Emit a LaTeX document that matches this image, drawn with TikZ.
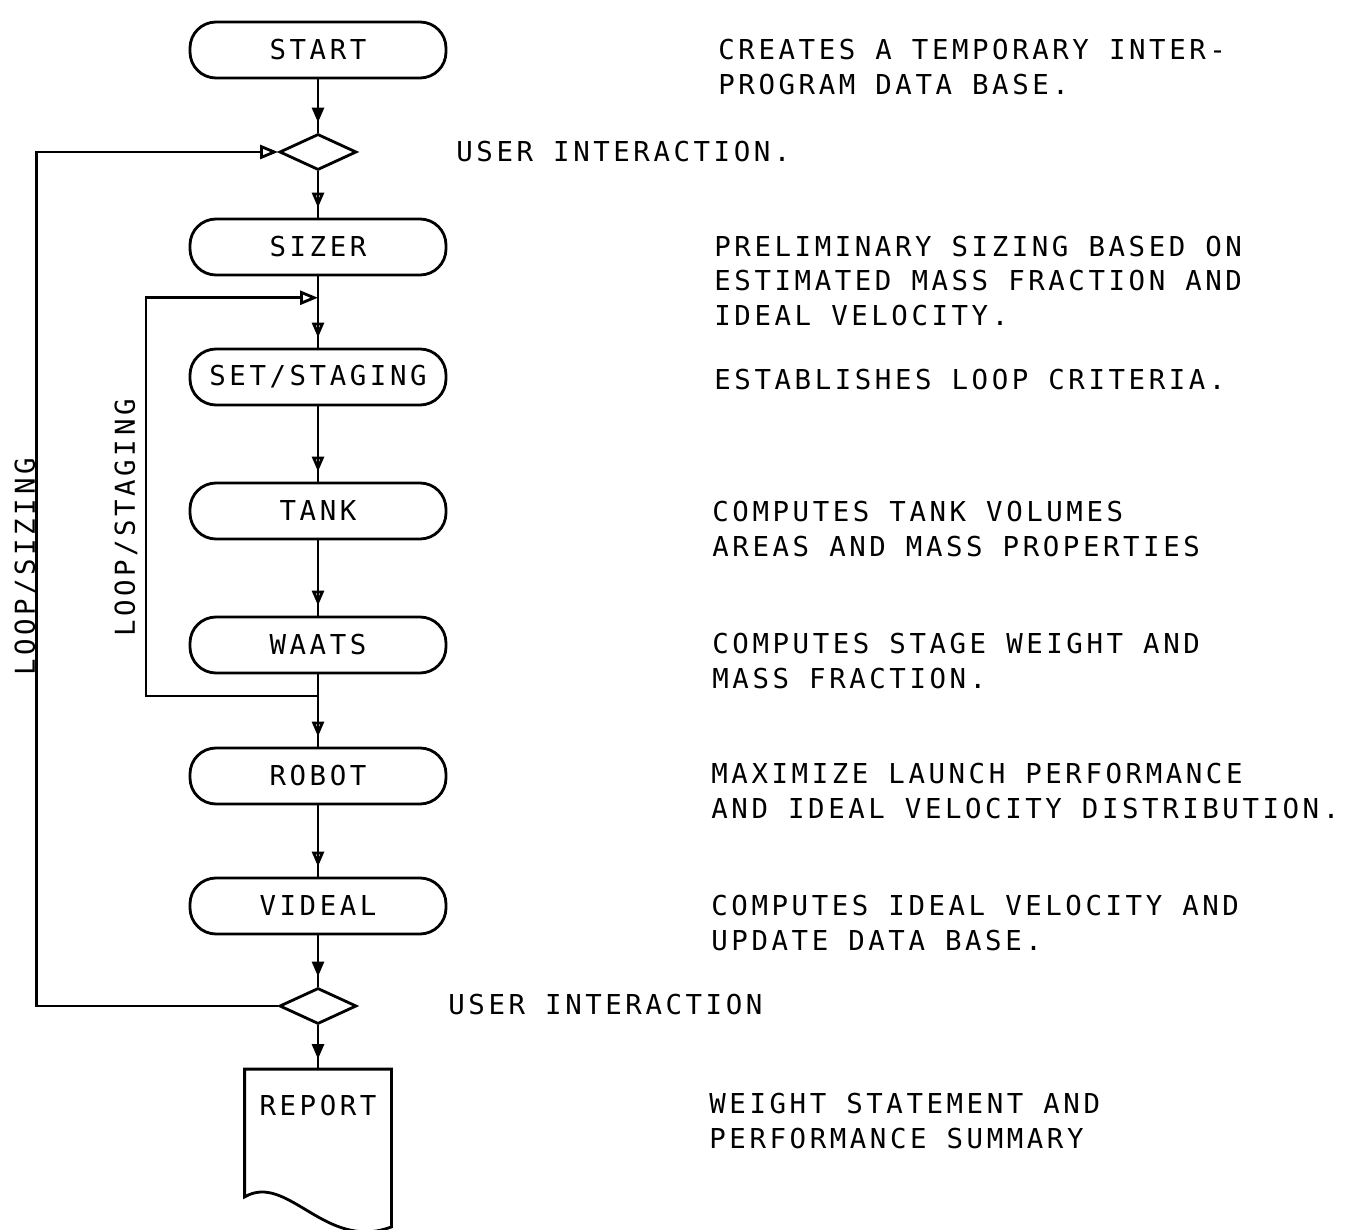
\documentclass[tikz,border=0pt]{standalone}
\usepackage{fontspec}
\usepackage{tikz}
\usetikzlibrary{arrows.meta,shapes.geometric,positioning,calc,decorations.markings}

\newfontfamily\flowfont[LetterSpace=13]{DejaVu Sans Mono}

\begin{document}
\begin{tikzpicture}
          [x=0.1mm,y=-0.1mm,node distance=13.2mm,thick,
           every node/.style={font=\flowfont\fontsize{7.8pt}{9.7pt}\selectfont}]
          \tikzstyle{proc}=[draw,rectangle,rounded corners=2.6mm,minimum width=25.6mm,minimum height=5.6mm,inner sep=0pt]
          \tikzstyle{ask}=[draw,diamond,aspect=2.1,minimum width=7.7mm,minimum height=3.6mm,inner sep=0pt]
          \tikzstyle{doc}=[rectangle,minimum width=14.4mm,inner sep=0pt,text height=4.5mm,text depth=11mm]
          \tikzstyle{note}=[anchor=west,align=left,inner sep=0pt]
          \tikzstyle{looplabel}=[rotate=90,inner sep=0pt]
          \tikzstyle{flow}=[postaction={decorate},decoration={markings,mark=at position -1mm with {\arrow{Triangle[open,length=1.5mm,width=1.2mm]}}}]
          \tikzstyle{flowfilled}=[postaction={decorate},decoration={markings,mark=at position -1mm with {\arrow{Triangle[length=1.5mm,width=1.2mm]}}}]
          \tikzstyle{back}=[-{Triangle[open,length=1.8mm,width=1.4mm]}]

          \useasboundingbox (0,0) rectangle (1356,1229);

          % program column
          \node[proc] (start) at (318,50) {START};
          \node[ask] (askA) [below of = start, node distance=10.2mm] {};
          \node[proc] (sizer) [below of = askA, node distance=9.5mm] {SIZER};
          \node[proc] (setstg) [below of = sizer, node distance=13mm] {SET/STAGING};
          \node[proc] (tank) [below of = setstg, node distance=13.4mm] {TANK};
          \node[proc] (waats) [below of = tank, node distance=13.4mm] {WAATS};
          \node[proc] (robot) [below of = waats, node distance=13.1mm] {ROBOT};
          \node[proc] (videal) [below of = robot, node distance=13mm] {VIDEAL};
          \node[ask] (askB) [below of = videal, node distance=10mm] {};
          \node[doc] (report) [below of = askB, node distance=14.2mm] {REPORT};

          % report sheet with wavy lower edge
          \draw (report.north west) -- ($(report.south west)+(0,-30)$)
                .. controls ($(report.south west)+(43,-55)$) and ($(report.south east)+(-66,25)$) .. (report.south east)
                -- (report.north east) -- cycle;

          \path (start) edge[flowfilled] (askA)
                (askA) edge[flow] (sizer)
                (sizer) edge[flow] (setstg)
                (setstg) edge[flow] (tank)
                (tank) edge[flow] (waats)
                (waats) edge[flow] (robot)
                (robot) edge[flow] (videal)
                (videal) edge[flowfilled] (askB)
                (askB) edge[flowfilled] (report);

          % loops back up the column
          \coordinate (stgin) at ($(sizer.south)!.3!(setstg.north)$);
          \coordinate (stgout) at ($(waats.south)!.3!(robot.north)$);
          \draw[back] (askB.west) -- ++(-242,0) |- (askA.west);
          \draw[back] (stgout) -- ++(-172,0) |- (stgin);
          \node[looplabel] (lblsize) at (26,567) {LOOP/SIZING};
          \node[looplabel] (lblstage) at (126,518) {LOOP/STAGING};

          % remarks
          \node[note] (nstart) at (717,67) {CREATES A TEMPORARY INTER-\\PROGRAM DATA BASE.};
          \node[note] (naskA) at (455,152) {USER INTERACTION.};
          \node[note] (nsizer) at (713,281) {PRELIMINARY SIZING BASED ON\\ESTIMATED MASS FRACTION AND\\IDEAL VELOCITY.};
          \node[note] (nsetstg) at (713,380) {ESTABLISHES LOOP CRITERIA.};
          \node[note] (ntank) at (711,529) {COMPUTES TANK VOLUMES\\AREAS AND MASS PROPERTIES};
          \node[note] (nwaats) at (711,661) {COMPUTES STAGE WEIGHT AND\\MASS FRACTION.};
          \node[note] (nrobot) at (710,791) {MAXIMIZE LAUNCH PERFORMANCE\\AND IDEAL VELOCITY DISTRIBUTION.};
          \node[note] (nvideal) at (710,923) {COMPUTES IDEAL VELOCITY AND\\UPDATE DATA BASE.};
          \node[note] (naskB) at (447,1005) {USER INTERACTION};
          \node[note] (nreport) at (708,1121) {WEIGHT STATEMENT AND\\PERFORMANCE SUMMARY};
\end{tikzpicture}
\end{document}
